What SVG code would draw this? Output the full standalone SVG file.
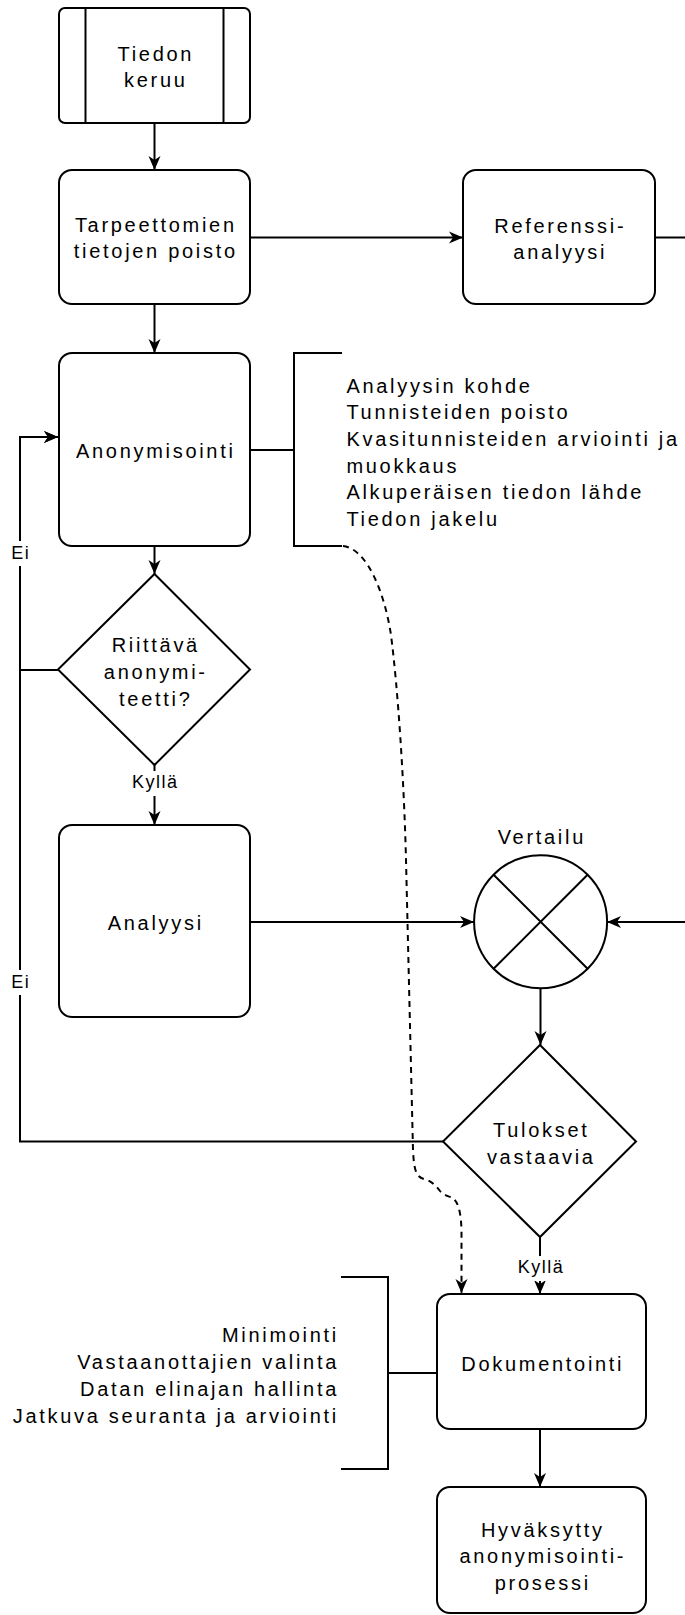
<svg xmlns="http://www.w3.org/2000/svg" width="685" height="1615" viewBox="0 0 685 1615">
<style>
.n{fill:#fff;stroke:#000;stroke-width:2}
.t{font-family:"Liberation Sans",Arial,sans-serif;font-size:20px;letter-spacing:2.7px;fill:#000}
.m{text-anchor:middle}
.e{text-anchor:end}
.l{font-family:"Liberation Sans",Arial,sans-serif;font-size:18px;letter-spacing:1.5px;fill:#000;text-anchor:middle}
.c{fill:none;stroke:#000;stroke-width:2}
.d{fill:none;stroke:#000;stroke-width:2;stroke-dasharray:6 5}
</style>
<defs>
<marker id="a" viewBox="0 0 16 14" markerWidth="16" markerHeight="14" refX="15" refY="7" orient="auto" markerUnits="userSpaceOnUse">
<path d="M1,1 L15,7 L1,13 L5,7 Z" fill="#000"/>
</marker>
</defs>
<rect width="685" height="1615" fill="#fff"/>
<g id="connectors">
<path class="c" d="M154.5,123 V170" marker-end="url(#a)"/>
<path class="c" d="M250,237.5 H463" marker-end="url(#a)"/>
<path class="c" d="M655,237.5 H700 V922 H607" marker-end="url(#a)"/>
<path class="c" d="M154.5,304 V353" marker-end="url(#a)"/>
<path class="c" d="M154.5,546 V574" marker-end="url(#a)"/>
<path class="c" d="M154.5,765 V825" marker-end="url(#a)"/>
<path class="c" d="M58,670 H20 V437 H58" marker-end="url(#a)"/>
<path class="c" d="M443,1141.5 H20 V437 H58" marker-end="url(#a)"/>
<path class="c" d="M250,922 H474" marker-end="url(#a)"/>
<path class="c" d="M540.5,988 V1045" marker-end="url(#a)"/>
<path class="c" d="M540,1237 V1294" marker-end="url(#a)"/>
<path class="c" d="M540,1429 V1487" marker-end="url(#a)"/>
<path class="c" d="M248,450 H294"/>
<path class="c" d="M388,1373 H437"/>
<path class="d" d="M343,546 C368,549 385,595 391,635 C398,690 404,780 406,860 L413,1150 C414,1170 416,1177 424,1179 C432,1181 436,1186 440,1191 C444,1196 450,1196 454,1199 C459,1204 461,1215 461.5,1230 L461.5,1293" marker-end="url(#a)"/>
<rect x="9" y="541" width="22" height="25" fill="#fff"/>
<text class="l" x="20.7" y="559.3">Ei</text>
<rect x="9" y="970" width="22" height="25" fill="#fff"/>
<text class="l" x="20.7" y="987.7">Ei</text>
<rect x="128" y="771" width="53" height="25" fill="#fff"/>
<text class="l" x="155.2" y="788.3">Kyllä</text>
<rect x="514" y="1256" width="53" height="25" fill="#fff"/>
<text class="l" x="541" y="1273.3">Kyllä</text>
</g>
<g id="tiedon-keruu">
<rect class="n" x="59" y="8" width="191" height="115" rx="6"/>
<path class="c" d="M85.5,8 V123 M223.5,8 V123"/>
<text class="t m" x="155.8" y="61">Tiedon</text>
<text class="t m" x="155.8" y="87">keruu</text>
</g>
<g id="tarpeettomien">
<rect class="n" x="59" y="170" width="191" height="134" rx="13"/>
<text class="t m" x="155.8" y="232.3">Tarpeettomien</text>
<text class="t m" x="155.8" y="258.3">tietojen poisto</text>
</g>
<g id="referenssi">
<rect class="n" x="463" y="170" width="192" height="134" rx="13"/>
<text class="t m" x="560.3" y="232.5">Referenssi-</text>
<text class="t m" x="560.3" y="258.5">analyysi</text>
</g>
<g id="anonymisointi">
<rect class="n" x="59" y="353" width="191" height="193" rx="13"/>
<text class="t m" x="155.8" y="458.3">Anonymisointi</text>
</g>
<g id="anon-bracket">
<path class="c" d="M342,353 H294 V546 H342"/>
<text class="t" x="346.4" y="392.5">Analyysin kohde</text>
<text class="t" x="346.4" y="419.2">Tunnisteiden poisto</text>
<text class="t" x="346.4" y="445.9">Kvasitunnisteiden arviointi ja</text>
<text class="t" x="346.4" y="472.6">muokkaus</text>
<text class="t" x="346.4" y="499.3">Alkuperäisen tiedon lähde</text>
<text class="t" x="346.4" y="526">Tiedon jakelu</text>
</g>
<g id="riittava">
<polygon class="n" points="154.5,574 250,669.5 154.5,765 58,669.5"/>
<text class="t m" x="155.8" y="652.3">Riittävä</text>
<text class="t m" x="155.8" y="679">anonymi-</text>
<text class="t m" x="155.8" y="706">teetti?</text>
</g>
<g id="analyysi">
<rect class="n" x="59" y="825" width="191" height="192" rx="13"/>
<text class="t m" x="155.8" y="930">Analyysi</text>
</g>
<g id="vertailu">
<circle class="n" cx="540.6" cy="921.7" r="66.5"/>
<path class="c" d="M493.6,874.7 L587.6,968.7 M587.6,874.7 L493.6,968.7"/>
<text class="t m" x="541.8" y="844">Vertailu</text>
</g>
<g id="tulokset">
<polygon class="n" points="540,1045 636,1141.5 540,1237 443,1141.5"/>
<text class="t m" x="541.3" y="1137.3">Tulokset</text>
<text class="t m" x="541.3" y="1164">vastaavia</text>
</g>
<g id="dokumentointi">
<rect class="n" x="437" y="1294" width="209" height="135" rx="13"/>
<text class="t m" x="542.8" y="1371">Dokumentointi</text>
</g>
<g id="dok-bracket">
<path class="c" d="M341,1277 H388 V1469 H341"/>
<text class="t e" x="339" y="1341.7">Minimointi</text>
<text class="t e" x="339" y="1369">Vastaanottajien valinta</text>
<text class="t e" x="339" y="1396">Datan elinajan hallinta</text>
<text class="t e" x="339" y="1422.7">Jatkuva seuranta ja arviointi</text>
</g>
<g id="hyvaksytty">
<rect class="n" x="437" y="1487" width="209" height="126" rx="13"/>
<text class="t m" x="542.8" y="1536.7">Hyväksytty</text>
<text class="t m" x="542.8" y="1563.2">anonymisointi-</text>
<text class="t m" x="542.8" y="1589.7">prosessi</text>
</g>
</svg>
